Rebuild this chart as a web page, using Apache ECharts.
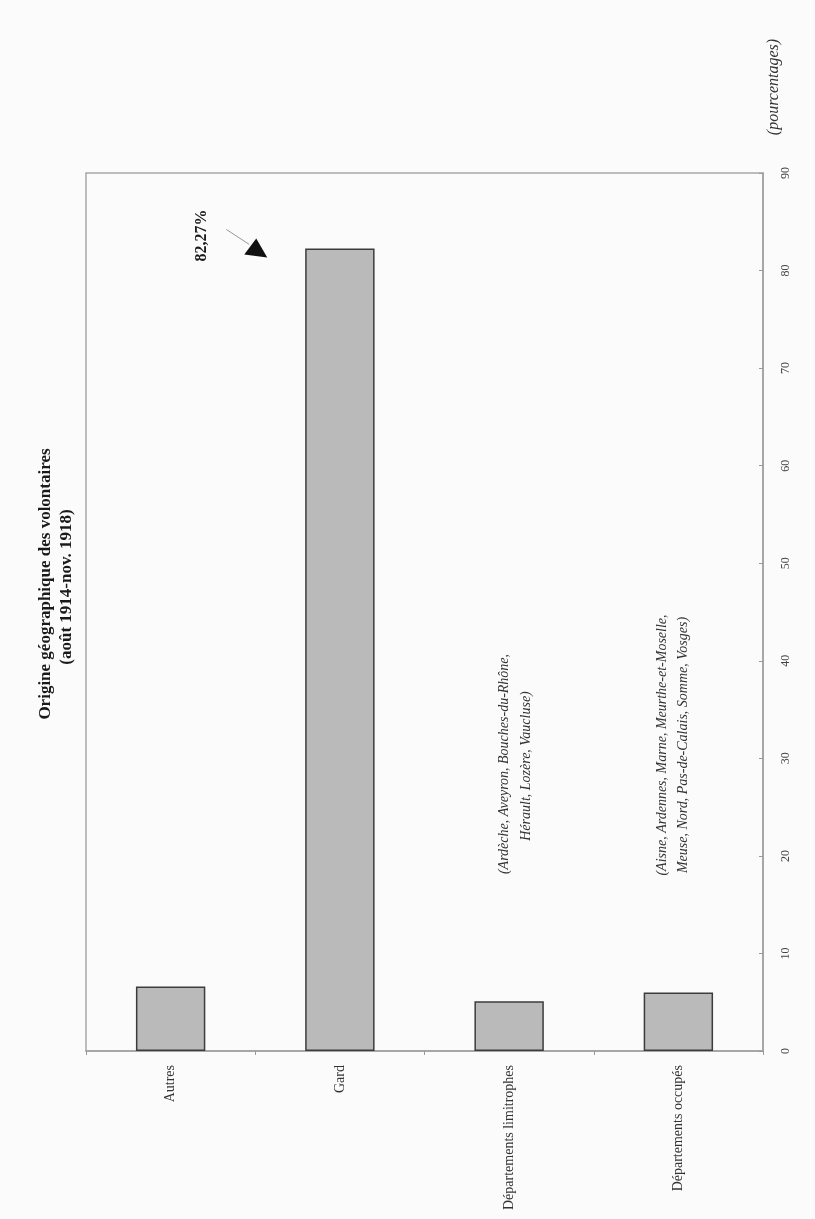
<!DOCTYPE html>
<html>
<head>
<meta charset="utf-8">
<script src="https://cdn.jsdelivr.net/npm/echarts@6/dist/echarts.min.js"></script>
<style>
html,body{margin:0;padding:0;background:#fbfbfb;}
#c{width:815px;height:1219px;}
</style>
</head>
<body>
<div id="c"></div>
<script>
const categories = ['Autres', 'Gard', 'Départements limitrophes', 'Départements occupés'];
const values = [6.6, 82.27, 5.1, 6.0];
const valueTicks = [0, 10, 20, 30, 40, 50, 60, 70, 80, 90];
const titleLines = ['Origine géographique des volontaires', '(août 1914-nov. 1918)'];
const unitLabel = '(pourcentages)';
const gardLabel = '82,27%';
const noteLimitrophes = ['(Ardèche, Aveyron, Bouches-du-Rhône,', 'Hérault, Lozère, Vaucluse)'];
const noteOccupes = ['(Aisne, Ardennes, Marne, Meurthe-et-Moselle,', 'Meuse, Nord, Pas-de-Calais, Somme, Vosges)'];

const FONT = '"Liberation Serif", "DejaVu Serif", serif';
const chart = echarts.init(document.getElementById('c'), null, {renderer: 'canvas'});

chart.setOption({
  backgroundColor: '#fbfbfb',
  animation: false,
  grid: {left: 86, right: 52, top: 173, bottom: 168, show: true, borderColor: '#a8a8a8', borderWidth: 1.5, backgroundColor: 'transparent'},
  xAxis: {
    type: 'category',
    data: categories,
    axisLine: {lineStyle: {color: '#a0a0a0', width: 1.5}},
    axisTick: {show: true, length: 4, lineStyle: {color: '#999'}},
    axisLabel: {rotate: 90, margin: 14, fontFamily: FONT, fontSize: 14, color: '#333', interval: 0}
  },
  yAxis: {
    type: 'value',
    position: 'right',
    min: 0, max: 90, interval: 10,
    axisLine: {show: true, lineStyle: {color: '#a0a0a0', width: 1.5}},
    axisTick: {show: true, length: 4, inside: true, lineStyle: {color: '#999'}},
    splitLine: {show: false},
    axisLabel: {rotate: 90, margin: 17, fontFamily: FONT, fontSize: 12, color: '#444',
      formatter: v => valueTicks.includes(v) ? String(v) : ''}
  },
  series: [{
    type: 'bar',
    data: values,
    barWidth: '41%',
    itemStyle: {color: '#bababa', borderColor: '#3c3c3c', borderWidth: 1.5}
  }]
});

// annotation anchors derived from axes
const pA = chart.convertToPixel({seriesIndex: 0}, [0, values[1]]);
const pG = chart.convertToPixel({seriesIndex: 0}, [1, values[1]]);
const ax = (pA[0] + pG[0]) / 2;
const ay = pG[1];
const pLim = chart.convertToPixel({seriesIndex: 0}, [2, 30]);
const pOcc = chart.convertToPixel({seriesIndex: 0}, [3, 30]);

function vtext(x, y, text, font, color) {
  return {type: 'text', x: x, y: y, rotation: Math.PI / 2,
    style: {text: text, font: font, fill: color || '#222', align: 'center', verticalAlign: 'middle'}};
}

chart.setOption({
  graphic: [
    vtext(46, 584, titleLines[0], 'bold 17px ' + FONT, '#1a1a1a'),
    vtext(67, 587, titleLines[1], 'bold 17px ' + FONT, '#1a1a1a'),
    vtext(774, 87, unitLabel, 'italic 16px ' + FONT, '#333'),
    vtext(ax - 53, ay - 13, gardLabel, 'bold 16px ' + FONT, '#1a1a1a'),
    {type: 'line', shape: {x1: ax - 29, y1: ay - 19, x2: ax - 6, y2: ay - 4}, style: {stroke: '#999', lineWidth: 1}},
    {type: 'polygon', shape: {points: [[ax + 1, ay - 10], [ax - 11, ay + 6], [ax + 12, ay + 9]]}, style: {fill: '#111'}},
    vtext(pLim[0] - 5, 764, noteLimitrophes[0], 'italic 14px ' + FONT, '#333'),
    vtext(pLim[0] + 17, 766, noteLimitrophes[1], 'italic 14px ' + FONT, '#333'),
    vtext(pOcc[0] - 16, 745, noteOccupes[0], 'italic 14px ' + FONT, '#333'),
    vtext(pOcc[0] + 5, 745, noteOccupes[1], 'italic 14px ' + FONT, '#333')
  ]
});
</script>
</body>
</html>
